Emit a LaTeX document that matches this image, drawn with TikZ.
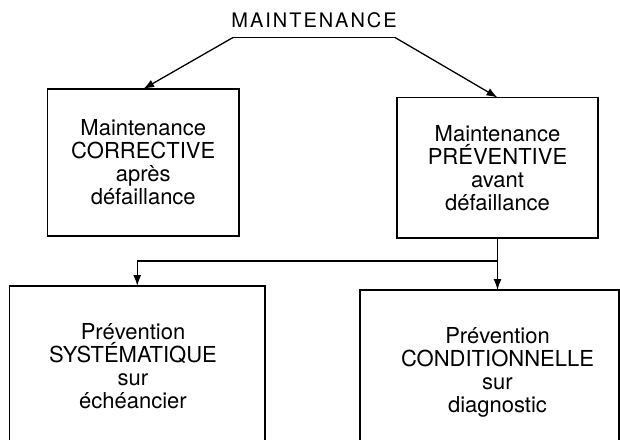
\documentclass[tikz,border=0pt]{standalone}
\usepackage{fontspec}
\setmainfont{TeX Gyre Heros}
\newfontfamily\titlefont[LetterSpace=10]{TeX Gyre Heros}
\usetikzlibrary{arrows.meta}
\begin{document}
\begin{tikzpicture}[x=1pt,y=-1pt,
  boxnode/.style={draw, line width=1.4pt, inner sep=0pt, outer sep=0pt, align=center,
    font=\fontsize{22}{23}\selectfont},
  txtnode/.style={inner sep=0pt, align=center, font=\fontsize{22}{23}\selectfont},
  conn/.style={line width=1.3pt},
  arr/.style={conn, -{Latex[length=11pt,width=8pt]}}]
\useasboundingbox (0,0) rectangle (620,439);
\clip (0,0) rectangle (620,439);

\node[anchor=base, inner sep=0pt, font=\fontsize{20}{24}\titlefont] (title) at (314,27) {MAINTENANCE};

\node[boxnode, minimum width=191.5pt, minimum height=147pt] (b1) at (143.25,162.5)
  {Maintenance\\CORRECTIVE\\après\\défaillance};
\node[boxnode, minimum width=201pt, minimum height=140.5pt] (b2) at (497.5,167.75)
  {Maintenance\\PRÉVENTIVE\\avant\\défaillance};

\node[boxnode, minimum width=255.5pt, minimum height=174pt] (b3) at (137.25,373) {};
\node[boxnode, minimum width=259pt, minimum height=170pt] (b4) at (489.5,375) {};
\node[txtnode] (t3) at (133,366.5) {Prévention\\SYSTÉMATIQUE\\sur\\échéancier};
\node[txtnode] (t4) at (497.5,372) {Prévention\\CONDITIONNELLE\\sur\\diagnostic};

\coordinate (L) at (233,37.5);
\coordinate (R) at (395,37.5);
\draw[conn] (L) -- (R);
\draw[arr] (L) -- (b1.north);
\draw[arr] (R) -- (b2.north);

\coordinate (J) at (497.5,261);
\draw[conn] (b2.south) -- (J);
\draw[arr] (J) -- (J |- b4.north);
\draw[arr] (J) -| (b3.north);
\end{tikzpicture}
\end{document}
